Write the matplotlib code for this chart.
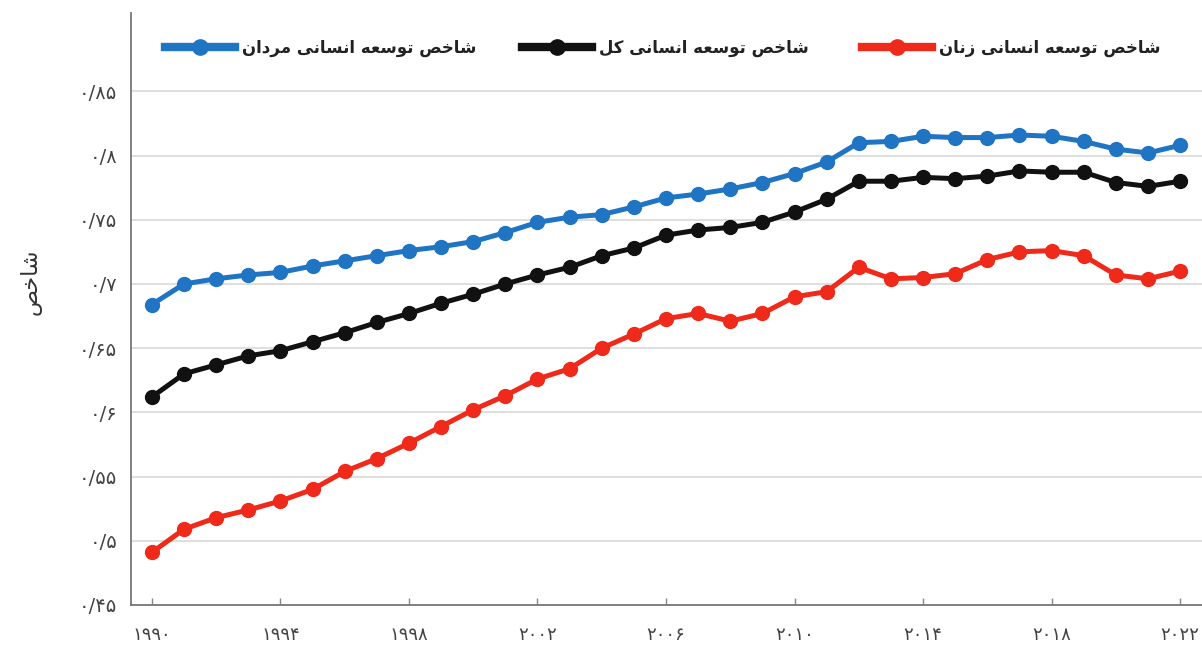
import matplotlib
matplotlib.use('Agg')
import matplotlib.pyplot as plt
from matplotlib.lines import Line2D

years = list(range(1990, 2023))

hdi_male = [0.684, 0.700, 0.704, 0.707, 0.709, 0.714, 0.718, 0.722, 0.726, 0.729,
            0.733, 0.740, 0.748, 0.752, 0.754, 0.760, 0.767, 0.770, 0.774, 0.779,
            0.786, 0.795, 0.810, 0.811, 0.815, 0.814, 0.814, 0.816, 0.815, 0.811,
            0.805, 0.802, 0.808]

hdi_total = [0.612, 0.630, 0.637, 0.644, 0.648, 0.655, 0.662, 0.670, 0.677, 0.685,
             0.692, 0.700, 0.707, 0.713, 0.722, 0.728, 0.738, 0.742, 0.744, 0.748,
             0.756, 0.766, 0.780, 0.780, 0.783, 0.782, 0.784, 0.788, 0.787, 0.787,
             0.779, 0.776, 0.780]

hdi_female = [0.491, 0.509, 0.518, 0.524, 0.531, 0.540, 0.554, 0.564, 0.576, 0.589,
              0.602, 0.613, 0.626, 0.634, 0.650, 0.661, 0.673, 0.677, 0.671, 0.677,
              0.690, 0.694, 0.713, 0.704, 0.705, 0.708, 0.719, 0.725, 0.726, 0.722,
              0.707, 0.704, 0.710]

series_names = ['شاخص توسعه انسانی مردان', 'شاخص توسعه انسانی کل', 'شاخص توسعه انسانی زنان']
series_colors = ['#1f74c4', '#111111', '#f02a1a']
y_label = 'شاخص'

x_ticks = [1990, 1994, 1998, 2002, 2006, 2010, 2014, 2018, 2022]
y_ticks = [0.45, 0.5, 0.55, 0.6, 0.65, 0.7, 0.75, 0.8, 0.85]

# isolated, final, initial, medial presentation forms
FORMS = {
    'ا': ('\uFE8D', '\uFE8E', None, None),
    'ت': ('\uFE95', '\uFE96', '\uFE97', '\uFE98'),
    'خ': ('\uFEA5', '\uFEA6', '\uFEA7', '\uFEA8'),
    'د': ('\uFEA9', '\uFEAA', None, None),
    'ر': ('\uFEAD', '\uFEAE', None, None),
    'ز': ('\uFEAF', '\uFEB0', None, None),
    'س': ('\uFEB1', '\uFEB2', '\uFEB3', '\uFEB4'),
    'ش': ('\uFEB5', '\uFEB6', '\uFEB7', '\uFEB8'),
    'ص': ('\uFEB9', '\uFEBA', '\uFEBB', '\uFEBC'),
    'ع': ('\uFEC9', '\uFECA', '\uFECB', '\uFECC'),
    'ل': ('\uFEDD', '\uFEDE', '\uFEDF', '\uFEE0'),
    'م': ('\uFEE1', '\uFEE2', '\uFEE3', '\uFEE4'),
    'ن': ('\uFEE5', '\uFEE6', '\uFEE7', '\uFEE8'),
    'ه': ('\uFEE9', '\uFEEA', '\uFEEB', '\uFEEC'),
    'و': ('\uFEED', '\uFEEE', None, None),
    'ی': ('\uFBFC', '\uFBFD', '\uFBFE', '\uFBFF'),
    'ک': ('\uFB8E', '\uFB8F', '\uFB90', '\uFB91'),
}


def shape_fa(text):
    words = []
    for word in text.split(' '):
        out = []
        for i, c in enumerate(word):
            iso, fin, ini, med = FORMS[c]
            prev_joins = i > 0 and FORMS[word[i - 1]][2] is not None
            next_joins = i < len(word) - 1 and ini is not None
            if prev_joins and next_joins:
                out.append(med)
            elif prev_joins:
                out.append(fin)
            elif next_joins:
                out.append(ini)
            else:
                out.append(iso)
        words.append(''.join(out)[::-1])
    return ' '.join(words[::-1])


def fa_digits(s):
    return s.translate(str.maketrans('0123456789', '۰۱۲۳۴۵۶۷۸۹'))


plt.rcParams['font.family'] = ['DejaVu Sans']

fig = plt.figure(figsize=(12.02, 6.49), dpi=100)
ax = fig.add_axes([131 / 1202, 1 - 605 / 649, 1 - 131 / 1202, (605 - 13) / 649])

for vals, col in zip([hdi_male, hdi_total, hdi_female], series_colors):
    ax.plot(years, vals, color=col, lw=3.6, marker='o', markersize=10, zorder=3)

ax.set_xlim(1989.35, 2022.68)
ax.set_ylim(0.45, 0.911)

ax.set_yticks(y_ticks)
ax.set_yticklabels([fa_digits(('%.2f' % v).rstrip('0').replace('.', '/')) for v in y_ticks])
ax.set_xticks(x_ticks)
ax.set_xticklabels([fa_digits(str(y)) for y in x_ticks])

ax.tick_params(axis='y', length=0, pad=10, labelsize=14, labelcolor='#444444')
ax.tick_params(axis='x', direction='in', length=5, width=1, color='#888888',
               pad=15, labelsize=13, labelcolor='#444444')

ax.grid(axis='y', color='#d9d9d9', lw=1.2)
ax.set_axisbelow(True)
for s in ['top', 'right']:
    ax.spines[s].set_visible(False)
for s in ['left', 'bottom']:
    ax.spines[s].set_color('#777777')
    ax.spines[s].set_linewidth(1.3)

fig.text(31 / 1202, 1 - 282 / 649, shape_fa(y_label), rotation=90, fontsize=16,
         color='#333333', ha='center', va='center')

legend_x = [165, 522, 862]
for name, col, lx in zip(series_names, series_colors, legend_x):
    h = Line2D([], [], color=col, lw=6, marker='o', markersize=11)
    leg = fig.legend([h], [shape_fa(name)], loc='center left',
                     bbox_to_anchor=(lx / 1202, 1 - 48 / 649), frameon=False,
                     borderpad=0, borderaxespad=0, handlelength=4.2, handletextpad=0.4,
                     prop={'size': 12, 'weight': 'bold'})
    for t in leg.get_texts():
        t.set_color('#222222')

fig.savefig('out.png', dpi=100, facecolor='white')
